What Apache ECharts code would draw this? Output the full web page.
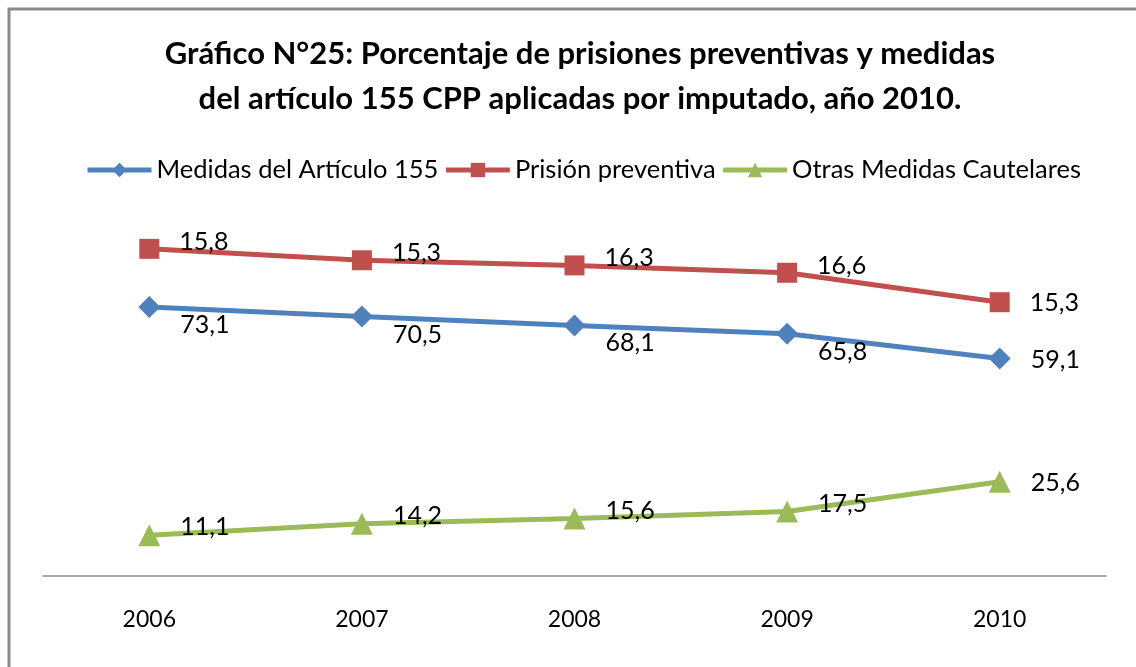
<!DOCTYPE html>
<html>
<head>
<meta charset="utf-8">
<script src="https://cdn.jsdelivr.net/npm/echarts@6/dist/echarts.min.js"></script>
<style>
  html, body { margin: 0; padding: 0; background: #fff; }
  #chart { width: 1136px; height: 667px; }
</style>
</head>
<body>
<div id="chart"></div>
<script>
const years = ['2006', '2007', '2008', '2009', '2010']
const articulo155 = [73.1, 70.5, 68.1, 65.8, 59.1]
const prisionPreventiva = [15.8, 15.3, 16.3, 16.6, 15.3]
const otrasMedidas = [11.1, 14.2, 15.6, 17.5, 25.6]

const font = 'Lato'
const fmt = p => String(p.value).replace('.', ',')

// el último punto lleva la etiqueta centrada a la derecha
function withLastLabel (vals) {
  return vals.map((v, i) => i === vals.length - 1 ? { value: v, label: { offset: [0, 1] } } : v)
}

const valueLabel = { show: true, position: 'right', distance: 20, formatter: fmt, color: '#000', fontFamily: font, fontSize: 25 }

const myChart = echarts.init(document.getElementById('chart'))
const option = {
  animation: false,
  color: ['#4F81BD', '#C0504D', '#9BBB59'],
  title: {
    text: 'Gráfico N°25: Porcentaje de prisiones preventivas y medidas\ndel artículo 155 CPP aplicadas por imputado, año 2010.',
    left: 575,
    top: 26,
    textAlign: 'center',
    textStyle: {
      fontFamily: font,
      fontWeight: 'bold',
      fontSize: 31,
      lineHeight: 45,
      color: '#000'
    }
  },
  legend: {
    top: 152,
    left: 80,
    itemWidth: 64,
    itemHeight: 18,
    itemGap: 5,
    lineStyle: { width: 5 },
    textStyle: { fontFamily: font, fontSize: 25.5, color: '#000' }
  },
  graphic: [{
    type: 'rect',
    shape: { x: 9, y: 9, width: 1200, height: 700 },
    style: { fill: null, stroke: '#8a8a8a', lineWidth: 3 }
  }],
  grid: {
    left: 43,
    right: 30,
    top: 208,
    bottom: 91
  },
  xAxis: {
    type: 'category',
    data: years,
    axisTick: { show: false },
    axisLine: { lineStyle: { color: '#8a8a8a', width: 1.5 } },
    axisLabel: { color: '#000', fontFamily: font, fontSize: 23, margin: 32 }
  },
  yAxis: {
    type: 'value',
    min: 0,
    max: 100,
    show: false,
    splitLine: { show: false }
  },
  series: [
    {
      name: 'Medidas del Artículo 155',
      type: 'line',
      stack: 'a',
      symbol: 'diamond',
      symbolSize: 22,
      lineStyle: { width: 5 },
      label: Object.assign({}, valueLabel, { offset: [0, 18] }),
      data: withLastLabel(articulo155)
    },
    {
      name: 'Prisión preventiva',
      type: 'line',
      stack: 'a',
      symbol: 'rect',
      symbolSize: 20,
      lineStyle: { width: 5 },
      label: Object.assign({}, valueLabel, { offset: [0, -7] }),
      data: withLastLabel(prisionPreventiva)
    },
    {
      name: 'Otras Medidas Cautelares',
      type: 'line',
      symbol: 'triangle',
      symbolSize: 22,
      lineStyle: { width: 5 },
      label: Object.assign({}, valueLabel, { offset: [0, -8] }),
      data: withLastLabel(otrasMedidas)
    }
  ]
}
myChart.setOption(option)
</script>
</body>
</html>
